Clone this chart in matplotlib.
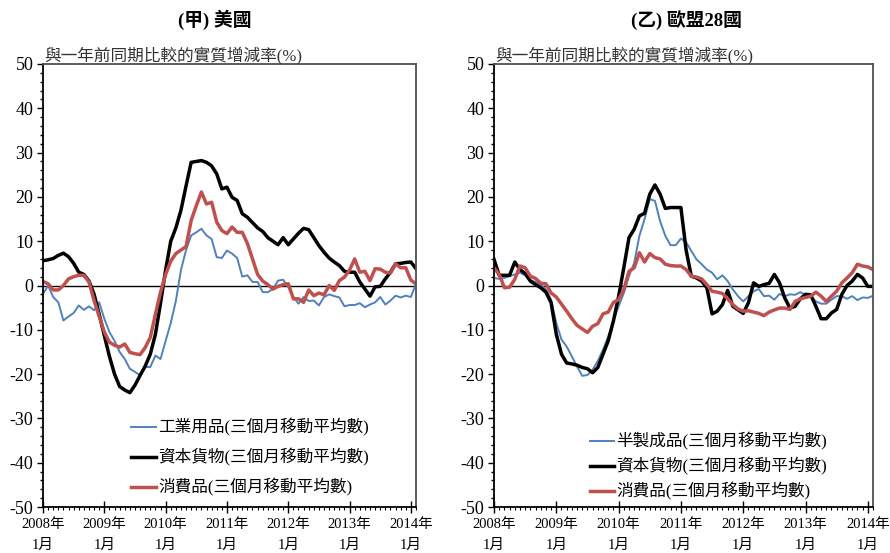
import numpy as np
import matplotlib
matplotlib.use("Agg")
import matplotlib.pyplot as plt
from matplotlib.ticker import MultipleLocator

plt.rcParams['font.family'] = ['Liberation Serif', 'Noto Sans CJK TC']
plt.rcParams['axes.unicode_minus'] = False

# months since 2008-01 (2008-01 .. 2014-02)
months = np.arange(74)
years = [2008, 2009, 2010, 2011, 2012, 2013, 2014]

us_industrial = [-1.9, 0.0, -2.6, -3.8, -7.9, -7.0, -6.2, -4.5, -5.5, -4.7,
                 -5.6, -3.8, -7.5, -10.5, -12.5, -15.0, -16.6, -18.8, -19.5, -20.3,
                 -18.4, -18.4, -15.8, -16.6, -12.5, -8.5, -3.5, 3.5, 8.0, 11.3,
                 12.0, 12.8, 11.3, 10.5, 6.4, 6.2, 7.9, 7.2, 6.2, 2.0,
                 2.3, 0.8, 0.8, -1.5, -1.5, -0.8, 1.1, 1.3, -0.4, -2.6,
                 -4.1, -2.6, -3.5, -3.4, -4.5, -2.6, -2.0, -2.4, -2.7, -4.7,
                 -4.4, -4.4, -4.0, -4.9, -4.3, -3.8, -2.6, -4.3, -3.4, -2.3,
                 -2.7, -2.3, -2.6, 0.4]
us_capital = [5.6, 5.8, 6.1, 6.8, 7.3, 6.5, 5.0, 3.0, 2.5, 1.0,
              -2.0, -6.5, -11.3, -16.0, -20.0, -22.8, -23.6, -24.2, -22.5, -20.3,
              -18.2, -15.5, -11.0, -4.0, 3.5, 10.0, 13.0, 17.0, 22.5, 27.8,
              28.0, 28.2, 27.8, 27.0, 25.2, 21.8, 22.2, 19.9, 19.2, 16.2,
              15.4, 14.2, 13.0, 12.2, 10.8, 10.0, 9.2, 10.8, 9.2, 10.5,
              11.8, 12.9, 12.6, 10.8, 9.0, 7.5, 6.2, 5.3, 4.5, 3.2,
              3.0, 3.0, 0.8, -0.8, -2.4, -0.3, -0.2, 1.5, 3.0, 4.9,
              5.0, 5.2, 5.3, 3.8]
us_consumer = [0.9, 0.4, -1.0, -1.0, 0.0, 1.5, 2.0, 2.3, 2.3, 0.8,
               -3.4, -7.0, -10.5, -12.8, -13.5, -13.9, -13.2, -15.1, -15.4, -15.6,
               -14.0, -11.7, -6.5, -1.5, 2.5, 5.5, 7.2, 8.0, 8.8, 14.7,
               18.0, 21.1, 18.4, 18.8, 14.3, 12.4, 11.7, 13.2, 12.0, 12.0,
               9.5, 6.0, 2.5, 1.0, 0.2, -0.8, -0.2, 0.2, 0.4, -3.0,
               -3.0, -3.8, -1.0, -2.3, -1.7, -2.1, 0.0, -1.1, 1.1, 1.9,
               3.5, 6.0, 3.0, 3.2, 1.1, 3.8, 3.7, 3.0, 2.8, 4.9,
               4.0, 4.0, 1.2, 0.4]

eu_semi = [1.7, 1.5, 1.7, 2.1, 2.5, 2.9, 2.3, 1.2, 0.8, 0.2,
           -0.9, -3.2, -8.5, -12.2, -13.8, -16.0, -18.3, -20.4, -20.2, -19.0,
           -17.0, -14.5, -11.5, -8.0, -4.7, -1.7, 2.1, 5.1, 11.2, 15.0,
           19.5, 19.1, 14.5, 11.2, 9.1, 9.1, 10.6, 9.8, 7.8, 5.9,
           4.8, 3.6, 2.9, 1.4, 2.3, 1.0, -0.9, -2.4, -3.6, -2.4,
           -1.3, -0.8, -2.4, -2.3, -3.2, -1.9, -2.4, -2.0, -2.1, -1.5,
           -2.1, -2.4, -3.6, -4.1, -4.1, -3.2, -2.4, -2.4, -3.0, -2.4,
           -3.3, -2.7, -2.8, -2.3]
eu_capital = [5.9, 2.3, 2.3, 2.3, 5.3, 3.6, 2.7, 1.0, 0.2, -0.5,
              -1.5, -3.9, -11.0, -15.5, -17.5, -17.7, -18.0, -18.5, -18.8, -19.7,
              -18.5, -15.5, -12.5, -8.0, -2.5, 4.0, 10.8, 12.7, 15.7, 16.3,
              20.6, 22.7, 20.6, 17.4, 17.6, 17.6, 17.6, 8.0, 2.1, 1.7,
              1.0, -0.5, -6.4, -5.8, -4.3, -1.1, -4.7, -5.5, -6.3, -3.9,
              0.6, -0.2, 0.2, 0.5, 2.5, 0.6, -2.8, -5.1, -4.7, -3.0,
              -2.0, -2.1, -4.7, -7.5, -7.5, -6.2, -5.4, -2.0, 0.0, 1.0,
              2.5, 1.7, -0.2, -0.2]
eu_consumer = [4.0, 2.5, -0.5, -0.4, 1.4, 4.4, 4.0, 2.1, 1.6, 0.5,
               0.4, -1.7, -2.6, -4.2, -5.8, -7.5, -9.0, -9.8, -10.6, -9.2,
               -8.6, -6.4, -6.0, -3.8, -3.2, -0.9, 3.2, 4.0, 7.4, 5.3,
               7.2, 6.3, 6.0, 4.8, 4.5, 4.4, 4.4, 3.6, 2.1, 1.9,
               1.5, 0.2, -1.3, -1.5, -1.8, -3.0, -4.3, -5.3, -5.8, -5.7,
               -6.0, -6.3, -6.8, -6.0, -5.5, -5.1, -5.1, -5.4, -3.6, -3.0,
               -2.7, -2.4, -1.5, -2.4, -3.6, -2.4, -1.3, 0.6, 1.7, 2.9,
               4.8, 4.4, 4.2, 3.6]

suffix = '(三個月移動平均數)'
blue, red = '#4F81BD', '#C0504D'

fig = plt.figure(figsize=(8.9, 5.53), dpi=100)
ax1 = fig.add_axes([43 / 890, 46 / 553, 373 / 890, 443 / 553])
ax2 = fig.add_axes([494 / 890, 46 / 553, 379 / 890, 443 / 553])

panels = [
    (ax1, '(甲) 美國', 215, [('工業用品', us_industrial, blue, 1.4),
                          ('資本貨物', us_capital, 'black', 2.5),
                          ('消費品', us_consumer, red, 2.5)], (0.237, 0.20), 0.72),
    (ax2, '(乙) 歐盟28國', 686, [('半製成品', eu_semi, blue, 1.4),
                             ('資本貨物', eu_capital, 'black', 2.5),
                             ('消費品', eu_consumer, red, 2.5)], (0.252, 0.168), 0.42),
]

for ax, title, tx, series, anchor, lspace in panels:
    ax.axhline(0, color='black', lw=1, zorder=1)
    for name, vals, col, lw in series:
        ax.plot(months, vals, color=col, lw=lw, label=name + suffix, zorder=2)
    ax.set_xlim(0, 73)
    ax.set_ylim(-50, 50)
    ax.yaxis.set_major_locator(MultipleLocator(10))
    ax.yaxis.set_minor_locator(MultipleLocator(2))
    ax.xaxis.set_minor_locator(MultipleLocator(1))
    ax.set_xticks([12 * i for i in range(len(years))])
    ax.set_xticklabels(['%d年\n1月' % y for y in years], fontsize=10.5, linespacing=1.75)
    ax.tick_params(axis='y', which='major', direction='out', length=4, width=1, labelsize=13, pad=3)
    ax.tick_params(axis='y', which='minor', direction='out', length=2.5, width=1)
    ax.tick_params(axis='x', which='major', direction='inout', length=8, width=1, pad=4)
    ax.tick_params(axis='x', which='minor', direction='out', length=2.5, width=0.8)
    for s in ['left', 'bottom']:
        ax.spines[s].set_color('black')
        ax.spines[s].set_linewidth(1.3)
    for s in ['top', 'right']:
        ax.spines[s].set_color('#505050')
        ax.spines[s].set_linewidth(1.3)
    ax.legend(loc='upper left', bbox_to_anchor=anchor, frameon=False, fontsize=12,
              handlelength=1.45, handletextpad=0.15, borderpad=0, borderaxespad=0,
              labelspacing=lspace)
    pos = ax.get_position()
    fig.text(tx / 890, 1 - 20 / 553, title, ha='center', va='center',
             fontsize=13.5, fontweight='bold')
    fig.text(pos.x0 + 1 / 890, 1 - 55 / 553, '與一年前同期比較的實質增減率(%)',
             ha='left', va='center', fontsize=12, color='#333333')

fig.savefig('out.png', dpi=100)
